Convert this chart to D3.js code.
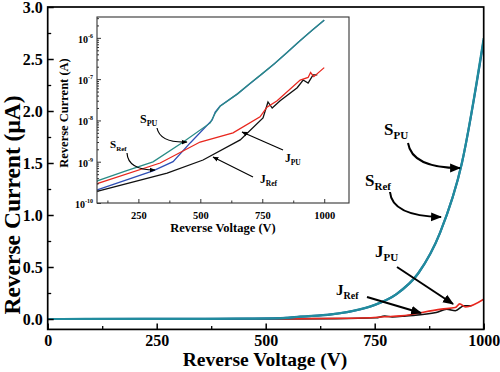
<!DOCTYPE html>
<html><head><meta charset="utf-8">
<script src="https://cdn.jsdelivr.net/npm/d3@7"></script>
<style>body{margin:0;background:#fff}svg{display:block}text{font-family:"Liberation Serif","Times New Roman",serif;font-weight:bold}</style>
</head><body>
<script>
// ---- data (voltage in V, current in A) ----
const vSPU = [0, 87, 200, 309, 431, 540, 560, 580, 650, 700, 750, 800, 850, 900, 950, 1000];
const iSPU = [1.2e-10, 3.5e-10, 6.0e-10, 9.9e-10, 3.0e-9, 8.7e-9, 1.5e-8, 2.2e-8, 4.4e-8, 7.8e-8, 1.36e-7, 2.4e-7, 4.4e-7, 8.3e-7, 1.5e-6, 2.7e-6];
const vSRef = [0, 87, 309, 390, 459, 548, 560, 580, 650, 700, 750, 800, 850, 900, 950, 1000];
const iSRef = [1.0e-10, 2.1e-10, 6.0e-10, 1.0e-9, 2.85e-9, 1.03e-8, 1.6e-8, 2.25e-8, 4.4e-8, 7.7e-8, 1.35e-7, 2.4e-7, 4.4e-7, 8.3e-7, 1.5e-6, 2.68e-6];
const vJPU = [0, 87, 338, 499, 632, 741, 769, 810, 903, 935, 945, 958, 1000];
const iJPU = [1.1e-10, 3.0e-10, 9.3e-10, 3.0e-9, 5.0e-9, 1.22e-8, 2.1e-8, 3.0e-8, 9.5e-8, 1.1e-7, 1.45e-7, 1.15e-7, 1.9e-7];
const vJRef = [0, 87, 366, 511, 661, 753, 773, 790, 822, 891, 915, 935, 955, 972];
const iJRef = [1.0e-10, 1.95e-10, 5.3e-10, 1.1e-9, 3.37e-9, 1.15e-8, 2.8e-8, 2.0e-8, 3.0e-8, 6.2e-8, 9.5e-8, 8.0e-8, 1.27e-7, 1.27e-7];

const mainXTicks = [0, 250, 500, 750, 1000];
const mainYTicks = [0.0, 0.5, 1.0, 1.5, 2.0, 2.5, 3.0];
const insetXTicks = [250, 500, 750, 1000];
const insetYExps = [-10, -9, -8, -7, -6];

const series = [
  {name: "JRef", v: vJRef, i: iJRef},
  {name: "JPU", v: vJPU, i: iJPU},
  {name: "SRef", v: vSRef, i: iSRef},
  {name: "SPU", v: vSPU, i: iSPU}
];

const W = 500, H = 372;
const svg = d3.select("body").append("svg").attr("width", W).attr("height", H);
const defs = svg.append("defs");
function marker(id, size) {
  defs.append("marker").attr("id", id).attr("viewBox", "0 0 10 10").attr("refX", 9).attr("refY", 5)
    .attr("markerWidth", size).attr("markerHeight", size).attr("markerUnits", "userSpaceOnUse").attr("orient", "auto")
    .append("path").attr("d", "M0,1 L10,5 L0,9 Z").attr("fill", "#000");
}
marker("ahBig", 11);
marker("ahSmall", 6);

// ---- main chart ----
const L = 47.7, R = 483.7, T = 7, B = 329.4;
const x = d3.scaleLinear([0, 1000], [L, R]);
const y = d3.scaleLinear([-0.1, 3.0], [B, T]);

defs.append("clipPath").attr("id", "mainClip").append("rect").attr("x", L).attr("y", T).attr("width", R - L).attr("height", B - T);

const mainG = svg.append("g").attr("clip-path", "url(#mainClip)");
const mainLine = d3.line().x(d => x(d[0])).y(d => y(d[1] * 1e6)).curve(d3.curveMonotoneX);
const mainColors = {JRef: "#111111", JPU: "#e8271e", SRef: "#1f5f9a", SPU: "#218c9e"};
series.forEach(s => {
  mainG.append("path").datum(s.v.map((v, k) => [v, s.i[k]]))
    .attr("d", mainLine).attr("fill", "none").attr("stroke", mainColors[s.name])
    .attr("stroke-width", s.name[0] === "S" ? 2.2 : 1.6);
});

// frame
svg.append("rect").attr("x", L).attr("y", T).attr("width", R - L).attr("height", B - T)
  .attr("fill", "none").attr("stroke", "#000").attr("stroke-width", 1.7);

// x axis
const xAxis = d3.axisBottom(x).tickValues(mainXTicks).tickSize(-6).tickFormat(d3.format("d"));
const gx = svg.append("g").attr("transform", `translate(0,${B})`).call(xAxis);
gx.select(".domain").remove();
gx.selectAll("line").attr("stroke", "#000").attr("stroke-width", 1.5);
gx.selectAll("text").attr("font-size", 16).attr("fill", "#000").attr("dy", "0.85em");
const gxm = svg.append("g").attr("transform", `translate(0,${B})`)
  .call(d3.axisBottom(x).tickValues([125, 375, 625, 875]).tickSize(-3.5).tickFormat(""));
gxm.select(".domain").remove();
gxm.selectAll("line").attr("stroke", "#000").attr("stroke-width", 1.3);

// y axis
const yAxis = d3.axisLeft(y).tickValues(mainYTicks).tickSize(-6).tickFormat(d3.format(".1f"));
const gy = svg.append("g").attr("transform", `translate(${L},0)`).call(yAxis);
gy.select(".domain").remove();
gy.selectAll("line").attr("stroke", "#000").attr("stroke-width", 1.5);
gy.selectAll("text").attr("font-size", 16).attr("fill", "#000").attr("x", -5).attr("dy", "0.36em");
const gym = svg.append("g").attr("transform", `translate(${L},0)`)
  .call(d3.axisLeft(y).tickValues([0.25, 0.75, 1.25, 1.75, 2.25, 2.75]).tickSize(-3.5).tickFormat(""));
gym.select(".domain").remove();
gym.selectAll("line").attr("stroke", "#000").attr("stroke-width", 1.3);

svg.append("text").attr("x", 265).attr("y", 366).attr("text-anchor", "middle").attr("font-size", 19.5).text("Reverse Voltage (V)");
svg.append("text").attr("transform", "translate(20,205) rotate(-90)").attr("text-anchor", "middle").attr("font-size", 23.5).text("Reverse Current (μA)");

function label(g, xx, yy, main, sub, fs, sfs, dy) {
  const t = g.append("text").attr("x", xx).attr("y", yy).attr("font-size", fs);
  t.append("tspan").text(main);
  t.append("tspan").attr("font-size", sfs).attr("dy", dy).text(sub);
}
label(svg, 384, 135, "S", "PU", 17, 11, 4);
label(svg, 365, 186, "S", "Ref", 17, 11, 4);
label(svg, 375, 257, "J", "PU", 17, 11, 4);
label(svg, 336, 295, "J", "Ref", 15, 10, 4);

function arrow(d, w, m) {
  svg.append("path").attr("d", d).attr("fill", "none").attr("stroke", "#000").attr("stroke-width", w).attr("marker-end", `url(#${m})`);
}
arrow("M408,143 Q412,168 460,168", 2, "ahBig");
arrow("M390,192 Q392,216 441,217", 2, "ahBig");
arrow("M397,267 L453,304", 2, "ahBig");
arrow("M367,297 L421,313", 2, "ahBig");

// ---- inset ----
const iL = 97, iR = 349, iT = 17, iB = 203;
const xi = d3.scaleLinear([83, 1100], [iL, iR]);
const yi = d3.scaleLog([1e-10, 3.2e-6], [iB, iT]);
svg.append("rect").attr("x", iL).attr("y", iT).attr("width", iR - iL).attr("height", iB - iT).attr("fill", "#fff");
defs.append("clipPath").attr("id", "insetClip").append("rect").attr("x", iL).attr("y", iT).attr("width", iR - iL).attr("height", iB - iT);
const insetG = svg.append("g").attr("clip-path", "url(#insetClip)");
const insetLine = d3.line().x(d => xi(d[0])).y(d => yi(d[1]));
const insetOrder = ["SRef", "SPU", "JRef", "JPU"];
const insetColors = {JRef: "#111111", JPU: "#e8271e", SRef: "#2f4fb5", SPU: "#2a8c86"};
insetOrder.forEach(n => {
  const s = series.find(q => q.name === n);
  insetG.append("path").datum(s.v.map((v, k) => [v, s.i[k]]))
    .attr("d", insetLine).attr("fill", "none").attr("stroke", insetColors[n]).attr("stroke-width", 1.3);
});
svg.append("rect").attr("x", iL).attr("y", iT).attr("width", iR - iL).attr("height", iB - iT)
  .attr("fill", "none").attr("stroke", "#333").attr("stroke-width", 1.1);

const gix = svg.append("g").attr("transform", `translate(0,${iB})`)
  .call(d3.axisBottom(xi).tickValues(insetXTicks).tickSize(-4).tickFormat(d3.format("d")));
gix.select(".domain").remove();
gix.selectAll("line").attr("stroke", "#333");
gix.selectAll("text").attr("font-size", 10.5).attr("fill", "#000").attr("dy", "1.2em");
const gixm = svg.append("g").attr("transform", `translate(0,${iB})`)
  .call(d3.axisBottom(xi).tickValues([125, 375, 625, 875]).tickSize(-2.5).tickFormat(""));
gixm.select(".domain").remove();
gixm.selectAll("line").attr("stroke", "#333");

const majorY = insetYExps.map(e => Math.pow(10, e));
const minorY = [];
[-11, -10, -9, -8, -7, -6].forEach(e => { for (let m = 2; m <= 9; m++) { const v = m * Math.pow(10, e); if (v >= 1e-10 && v <= 3.2e-6) minorY.push(v); } });
const giy = svg.append("g").attr("transform", `translate(${iL},0)`)
  .call(d3.axisLeft(yi).tickValues(majorY).tickSize(-4).tickFormat(""));
giy.select(".domain").remove();
giy.selectAll("line").attr("stroke", "#333");
const giym = svg.append("g").attr("transform", `translate(${iL},0)`)
  .call(d3.axisLeft(yi).tickValues(minorY).tickSize(-2).tickFormat(""));
giym.select(".domain").remove();
giym.selectAll("line").attr("stroke", "#333");
insetYExps.forEach(e => {
  const t = svg.append("text").attr("x", iL - 4).attr("y", yi(Math.pow(10, e)) + 5).attr("text-anchor", "end").attr("font-size", 10);
  t.append("tspan").text("10");
  t.append("tspan").attr("font-size", 6).attr("dy", -5).text(String(e));
});

svg.append("text").attr("x", 223).attr("y", 232).attr("text-anchor", "middle").attr("font-size", 12.5).text("Reverse Voltage (V)");
svg.append("text").attr("transform", "translate(68,113) rotate(-90)").attr("text-anchor", "middle").attr("font-size", 12.5).text("Reverse Current (A)");

label(svg, 140, 123, "S", "PU", 12, 8, 3);
label(svg, 110, 148, "S", "Ref", 11, 7, 3);
label(svg, 285, 162, "J", "PU", 11.5, 7.5, 3);
label(svg, 260, 183, "J", "Ref", 11.5, 7.5, 3);
arrow("M157,128 Q160,143 187,142", 1.2, "ahSmall");
arrow("M127,153 Q128,170 155,170", 1.2, "ahSmall");
arrow("M283,150 L242,132", 1.2, "ahSmall");
arrow("M253,177 L213,157", 1.2, "ahSmall");
</script>
</body></html>
